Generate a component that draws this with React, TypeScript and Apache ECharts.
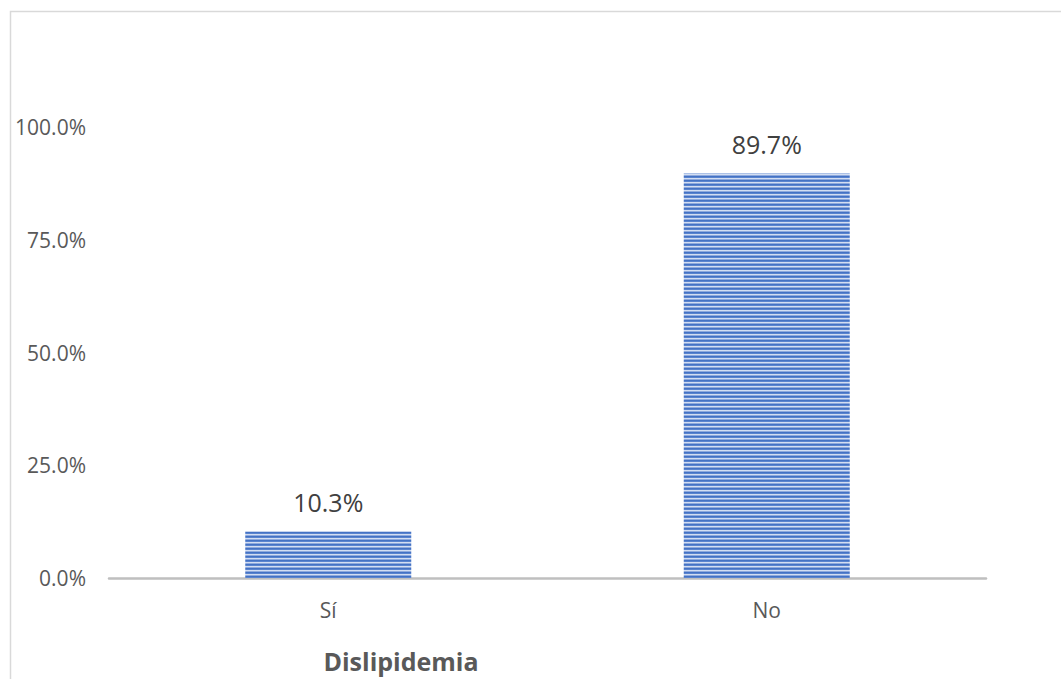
import React, { useEffect, useRef } from "react";
import * as echarts from "echarts";

const categories = ["Sí", "No"];
const values = [10.3, 89.7];
const yTicks = [0, 25, 50, 75, 100];
const axisTitle = "Dislipidemia";

function makeStripePattern(): HTMLCanvasElement {
  const c = document.createElement("canvas");
  c.width = 8;
  c.height = 4;
  const ctx = c.getContext("2d")!;
  const rows = ["#4472C4", "#5A84CF", "#D3DEF2", "#8FAADD"];
  rows.forEach((col, i) => {
    ctx.fillStyle = col;
    ctx.fillRect(0, i, 8, 1);
  });
  return c;
}

export default function App() {
  const ref = useRef<HTMLDivElement>(null);

  useEffect(() => {
    if (!ref.current) return;
    const chart = echarts.init(ref.current, undefined, { renderer: "svg" });
    const font = "'Open Sans', 'Liberation Sans', sans-serif";
    const pattern = makeStripePattern();

    chart.setOption({
      animation: false,
      backgroundColor: "#ffffff",
      textStyle: { fontFamily: font },
      grid: { left: 109, right: 75, top: 127, bottom: 101 },
      graphic: [
        {
          type: "rect",
          shape: { x: 10.5, y: 11.5, width: 1200, height: 800 },
          style: { fill: "none", stroke: "#D9D9D9", lineWidth: 1.5 },
          silent: true,
          z: -10,
        },
        {
          type: "text",
          x: 401,
          y: 661,
          style: {
            text: axisTitle,
            fontFamily: font,
            fontSize: 25,
            fontWeight: "bold",
            fill: "#595959",
            align: "center",
            verticalAlign: "middle",
          },
        },
      ],
      xAxis: {
        type: "category",
        data: categories,
        axisLine: { lineStyle: { color: "#BFBFBF", width: 2.5 } },
        axisTick: { show: false },
        axisLabel: { color: "#595959", fontSize: 21, margin: 21, fontFamily: font },
      },
      yAxis: {
        type: "value",
        min: yTicks[0],
        max: yTicks[yTicks.length - 1],
        interval: 25,
        splitLine: { show: false },
        axisLine: { show: false },
        axisTick: { show: false },
        axisLabel: {
          color: "#595959",
          fontSize: 21,
          margin: 23,
          fontFamily: font,
          formatter: (v: number) => v.toFixed(1) + "%",
        },
      },
      series: [
        {
          type: "bar",
          data: values,
          barWidth: 166,
          itemStyle: {
            color: { image: pattern, repeat: "repeat" } as any,
          },
          label: {
            show: true,
            position: "top",
            distance: 17,
            color: "#404040",
            fontSize: 25,
            fontFamily: font,
            formatter: (p: any) => Number(p.value).toFixed(1) + "%",
          },
        },
      ],
    });

    return () => chart.dispose();
  }, []);

  return (
    <div
      ref={ref}
      style={{ position: "absolute", left: 0, top: 0, width: 1061, height: 679 }}
    />
  );
}
